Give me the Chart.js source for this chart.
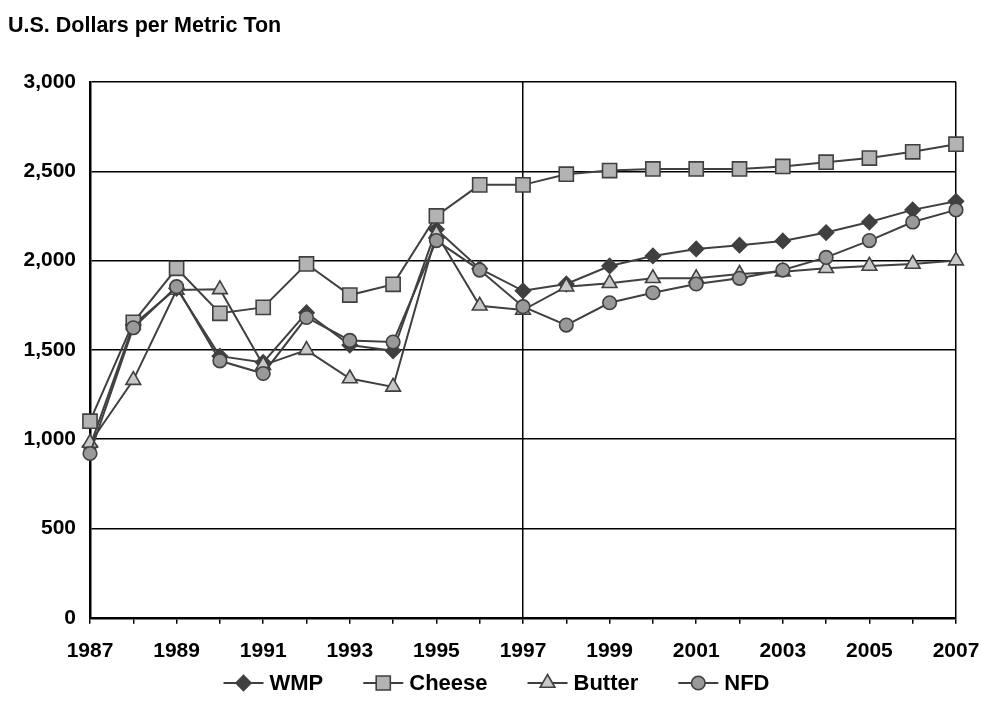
<!DOCTYPE html>
<html lang="en">
<head>
    <meta charset="UTF-8">
    <title>Dairy Prices</title>
    <script src="https://cdn.jsdelivr.net/npm/chart.js@4.4.0/dist/chart.umd.min.js"></script>
    <style>
        body {
            margin: 0;
            background: #ffffff;
        }
        .chart-box {
            width: 981px;
            height: 719px;
            position: relative;
        }
    </style>
</head>
<body>
    <div class="chart-box">
        <canvas id="chart"></canvas>
    </div>

    <script>
        // Data
        const years = ['1987', '1988', '1989', '1990', '1991', '1992', '1993', '1994', '1995', '1996', '1997',
                       '1998', '1999', '2000', '2001', '2002', '2003', '2004', '2005', '2006', '2007'];
        const wmp    = [960, 1640, 1845, 1465, 1430, 1708, 1527, 1495, 2175, 1955, 1831, 1869, 1970, 2026, 2065, 2086, 2110, 2157, 2216, 2284, 2332];
        const cheese = [1101, 1654, 1957, 1705, 1738, 1981, 1807, 1867, 2250, 2424, 2424, 2484, 2504, 2513, 2513, 2513, 2527, 2551, 2574, 2609, 2652];
        const butter = [979, 1331, 1835, 1839, 1415, 1499, 1340, 1293, 2150, 1747, 1723, 1854, 1873, 1901, 1901, 1925, 1938, 1957, 1970, 1981, 2000];
        const nfd    = [920, 1624, 1854, 1439, 1368, 1682, 1553, 1544, 2112, 1947, 1742, 1639, 1764, 1820, 1869, 1901, 1947, 2018, 2112, 2216, 2284];
        const yTicks = [0, 500, 1000, 1500, 2000, 2500, 3000];

        const TITLE = 'U.S. Dollars per Metric Ton';
        const LINE_COLOR = '#404040';
        const FONT = "'Liberation Sans', Arial, sans-serif";

        function series(label, data, style, fill, radius, order) {
            return {
                label: label,
                data: data,
                borderColor: LINE_COLOR,
                borderWidth: 2,
                pointStyle: style,
                pointRadius: radius,
                pointBackgroundColor: fill,
                pointBorderColor: LINE_COLOR,
                pointBorderWidth: 1.6,
                tension: 0,
                order: order
            };
        }

        // title at top left and line+marker legend at the bottom
        const decorations = {
            id: 'decorations',
            afterDraw(chart) {
                const ctx = chart.ctx;
                ctx.save();
                ctx.fillStyle = '#000';
                ctx.font = 'bold 21.5px ' + FONT;
                ctx.textBaseline = 'alphabetic';
                ctx.textAlign = 'left';
                ctx.fillText(TITLE, 8, 32);

                ctx.font = 'bold 22px ' + FONT;
                const lineLen = 40, gap = 6, spacing = 40;
                const sets = chart.data.datasets;
                const widths = sets.map(ds => lineLen + gap + ctx.measureText(ds.label).width);
                const total = widths.reduce((a, b) => a + b, 0) + spacing * (sets.length - 1);
                let x = (chart.width - total) / 2 + 6;
                const y = 683;
                sets.forEach((ds, i) => {
                    ctx.strokeStyle = LINE_COLOR;
                    ctx.lineWidth = ds.borderWidth;
                    ctx.beginPath();
                    ctx.moveTo(x, y);
                    ctx.lineTo(x + lineLen, y);
                    ctx.stroke();
                    ctx.fillStyle = ds.pointBackgroundColor;
                    ctx.lineWidth = ds.pointBorderWidth;
                    Chart.helpers.drawPoint(ctx, {
                        pointStyle: ds.pointStyle,
                        radius: ds.pointRadius,
                        rotation: 0,
                        borderWidth: ds.pointBorderWidth
                    }, x + lineLen / 2, y);
                    ctx.fillStyle = '#000';
                    ctx.textBaseline = 'middle';
                    ctx.fillText(ds.label, x + lineLen + gap, y + 1);
                    x += widths[i] + spacing;
                });
                ctx.restore();
            }
        };

        new Chart(document.getElementById('chart'), {
            type: 'line',
            data: {
                labels: years,
                datasets: [
                    series('WMP', wmp, 'rectRot', '#404040', 7.5, 3),
                    series('Cheese', cheese, 'rect', '#b3b3b3', 10, 2),
                    series('Butter', butter, 'triangle', '#c8c8c8', 8.5, 1),
                    series('NFD', nfd, 'circle', '#999999', 6.8, 0)
                ]
            },
            options: {
                responsive: true,
                maintainAspectRatio: false,
                animation: false,
                layout: {
                    padding: { left: 8, right: 2, top: 82, bottom: 40 }
                },
                plugins: {
                    legend: { display: false },
                    tooltip: { enabled: false }
                },
                scales: {
                    x: {
                        offset: false,
                        afterFit: scale => { scale.paddingRight = 25; },
                        grid: {
                            color: c => (years[c.index] === '1997' || c.index === years.length - 1) ? '#000' : 'rgba(0,0,0,0)',
                            lineWidth: 1.5,
                            tickColor: '#000',
                            tickLength: 6,
                            tickWidth: 1.5
                        },
                        border: { color: '#000', width: 2.5 },
                        ticks: {
                            autoSkip: false,
                            maxRotation: 0,
                            padding: 15,
                            color: '#000',
                            font: { family: FONT, size: 21, weight: 'bold' },
                            callback: (v, i) => i % 2 === 0 ? years[i] : ''
                        }
                    },
                    y: {
                        min: yTicks[0],
                        max: yTicks[yTicks.length - 1],
                        afterBuildTicks: scale => { scale.ticks = yTicks.map(v => ({ value: v })); },
                        afterFit: scale => { scale.width = 82; },
                        grid: {
                            color: '#000',
                            lineWidth: 1.5,
                            drawTicks: false
                        },
                        border: { color: '#000', width: 2.5 },
                        ticks: {
                            padding: 14,
                            color: '#000',
                            font: { family: FONT, size: 21, weight: 'bold' },
                            callback: v => v.toLocaleString('en-US')
                        }
                    }
                }
            },
            plugins: [decorations]
        });
    </script>
</body>
</html>
